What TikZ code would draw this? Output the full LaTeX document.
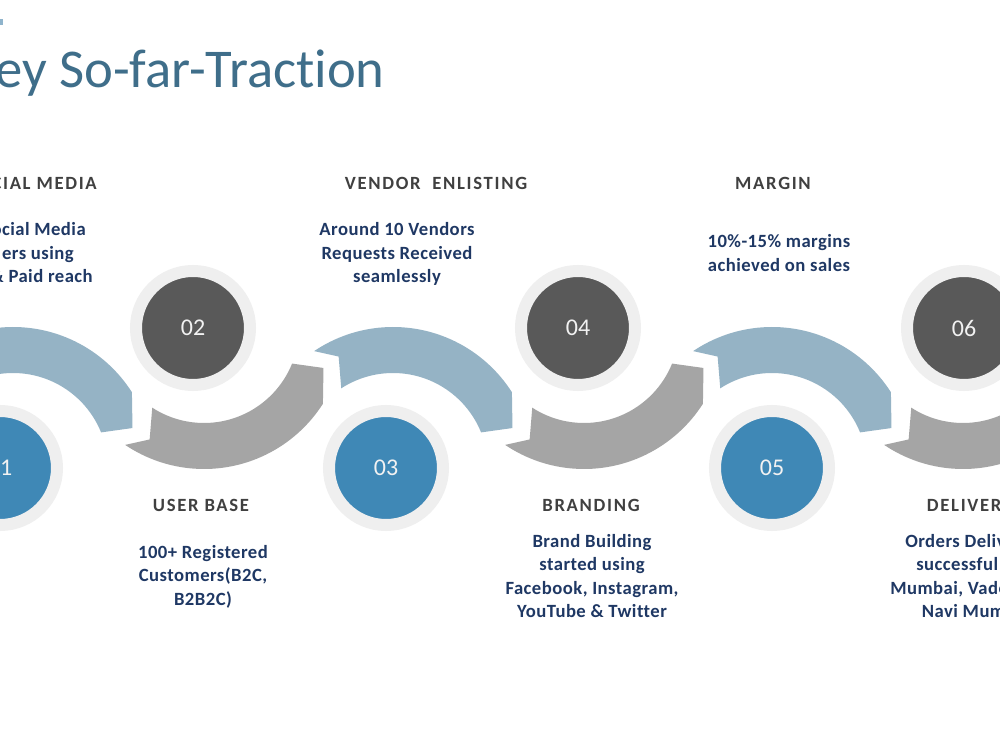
\documentclass[tikz,border=0pt]{standalone}
\usepackage{fontspec}
\setmainfont{Carlito}[Ligatures=NoCommon]
\usetikzlibrary{calc}
\definecolor{bandblue}{HTML}{95B3C5}
\definecolor{bandgray}{HTML}{A5A5A5}
\definecolor{circdark}{HTML}{595959}
\definecolor{circblue}{HTML}{3F88B6}
\definecolor{ringgray}{HTML}{EFEFEF}
\definecolor{headtxt}{HTML}{404040}
\definecolor{bodytxt}{HTML}{1F3864}
\definecolor{titletxt}{HTML}{3F6E8A}
\definecolor{markblue}{HTML}{8FB4CC}
\definecolor{numtxt}{HTML}{F2F2F2}
\newcommand\bluebandat[1]{%
  \fill[bandblue] ($(#1)+(124:141)$) arc[start angle=124,end angle=32.5,radius=105.75pt]
    -- ($(#1)+(18.5:126)$) -- ($(#1)+(22:95)$)
    arc[start angle=22,end angle=123,radius=71.25pt]
    -- ($(#1)+(116:124)$) -- cycle;}
\newcommand\graybandat[1]{%
  \fill[bandgray] ($(#1)+(-124:141)$) arc[start angle=-124,end angle=-32.5,radius=105.75pt]
    -- ($(#1)+(-18.5:126)$) -- ($(#1)+(-22:95)$)
    arc[start angle=-22,end angle=-123,radius=71.25pt]
    -- ($(#1)+(-116:124)$) -- cycle;}
\begin{document}
\begin{tikzpicture}[x=0.75pt,y=0.75pt,
  numcirc/.style={circle,minimum size=85.5pt,inner sep=0pt,line width=9pt,draw=ringgray,text=numtxt,font=\fontsize{18}{20}\selectfont},
  upcirc/.style={numcirc,fill=circdark},
  lowcirc/.style={numcirc,fill=circblue},
  headtext/.style={inner sep=0pt,text=headtxt,font=\fontsize{14}{17}\selectfont\bfseries\addfontfeature{LetterSpace=9}},
  bodyline/.style={inner sep=0pt,text=bodytxt,font=\fontsize{14}{17}\selectfont\bfseries\addfontfeature{LetterSpace=2.5}},
]
\useasboundingbox (0,0) rectangle (1000,750);
\clip (0,0) rectangle (1000,750);
\fill[white] (0,0) rectangle (1000,750);
\fill[markblue] (0,725) rectangle (3,731);

% band centres
\coordinate (B1) at (13,282);
\coordinate (B3) at (393,282);
\coordinate (B5) at (772,282);
\coordinate (G2) at (204,422);
\coordinate (G4) at (584,422);
\coordinate (G6) at (963,422);
\bluebandat{B1}\bluebandat{B3}\bluebandat{B5}
\graybandat{G2}\graybandat{G4}\graybandat{G6}

% circles
\node[lowcirc] (c01) at (0,282) {01};
\node[upcirc] (c02) at (193,422) {02};
\node[lowcirc] (c03) at (386,282) {03};
\node[upcirc] (c04) at (578,422) {04};
\node[lowcirc] (c05) at (772,282) {05};
\node[upcirc] (c06) at (964,422) {06};

% title
\node[anchor=base east,inner sep=0pt,text=titletxt,font=\fontsize{41}{46}\selectfont] (title) at (385,662) {ey So-far-Traction};

% headings
\node[headtext,anchor=base east] (hsocial) at (97,560) {CIAL MEDIA};
\node[headtext,anchor=base] (hvendor) at (436,560) {VENDOR\ \ ENLISTING};
\node[headtext,anchor=base] (hmargin) at (773,560) {MARGIN};
\node[headtext,anchor=base] (huser) at (201,238) {USER BASE};
\node[headtext,anchor=base] (hbrand) at (591,238) {BRANDING};
\node[headtext,anchor=base west] (hdeliv) at (926.7,238) {DELIVER};

% social media text
\node[bodyline,anchor=base east] (s1) at (86,514) {ocial Media};
\node[bodyline,anchor=base east] (s2) at (74,490) {ers using};
\node[bodyline,anchor=base east] (s3) at (93,467) {\& Paid reach};
% vendor
\node[bodyline,anchor=base] (v1) at (397,514) {Around 10 Vendors};
\node[bodyline,anchor=base] (v2) at (397,490) {Requests Received};
\node[bodyline,anchor=base] (v3) at (397,467) {seamlessly};
% margin
\node[bodyline,anchor=base] (m1) at (779,502) {10\%-15\% margins};
\node[bodyline,anchor=base] (m2) at (779,478) {achieved on sales};
% user base
\node[bodyline,anchor=base] (u1) at (203,191) {100+ Registered};
\node[bodyline,anchor=base] (u2) at (203,168) {Customers(B2C,};
\node[bodyline,anchor=base] (u3) at (203,144) {B2B2C)};
% branding
\node[bodyline,anchor=base] (b1) at (592,202) {Brand Building};
\node[bodyline,anchor=base] (b2) at (592,179) {started using};
\node[bodyline,anchor=base] (b3) at (592,155) {Facebook, Instagram,};
\node[bodyline,anchor=base] (b4) at (592,132) {YouTube \& Twitter};
% delivery
\node[bodyline,anchor=base west] (d1) at (905,202) {Orders Deliv};
\node[bodyline,anchor=base west] (d2) at (916,179) {successful};
\node[bodyline,anchor=base west] (d3) at (890,155) {Mumbai, Vado};
\node[bodyline,anchor=base west] (d4) at (921.7,132) {Navi Mum};
\end{tikzpicture}
\end{document}
